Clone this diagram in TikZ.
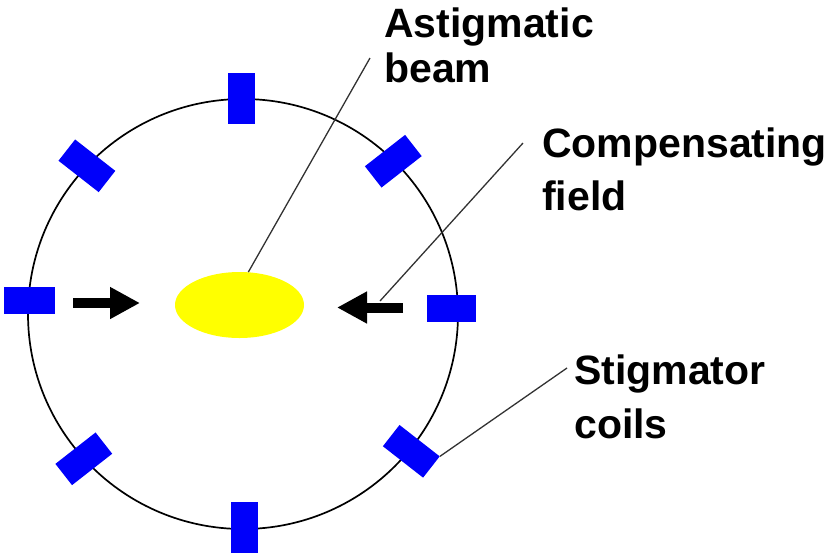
\documentclass[tikz,border=0pt]{standalone}
\usepackage{fontspec}
\setmainfont{Liberation Sans}
\usetikzlibrary{shapes.geometric,arrows.meta}
\definecolor{coilblue}{RGB}{0,0,250}
\definecolor{beamyellow}{RGB}{255,255,0}
\definecolor{leadergray}{RGB}{50,50,50}
\tikzset{
  coil/.style={draw=none, fill=coilblue, rectangle, minimum width=51pt, minimum height=27pt, inner sep=0pt},
  label/.style={font=\fontsize{41}{46}\selectfont\bfseries, anchor=base west, inner sep=0pt},
  leader/.style={draw=leadergray, line width=1.3pt},
  fieldarrow/.style={line width=10pt, -{Triangle[length=30pt,width=30pt]}}
}
\begin{document}
\begin{tikzpicture}[x=1pt,y=-1pt]
\useasboundingbox (0,0) rectangle (838,558);
% ring
\node[draw=black, line width=1.7pt, circle, minimum size=430pt, inner sep=0pt] (ring) at (243,314) {};
% beam
\node[ellipse, fill=beamyellow, minimum width=129pt, minimum height=66pt, inner sep=0pt] (beam) at (239.5,305) {};
% coils
\node[coil, rotate=90] (ctop) at (241,98.5) {};
\node[coil, rotate=90] (cbot) at (244,527.5) {};
\node[coil] (cleft) at (29,300) {};
\node[coil, minimum width=49pt] (cright) at (451.5,308) {};
\node[coil, rotate=-38] (cul) at (86.9,165.8) {};
\node[coil, rotate=38] (cur) at (393.3,161.2) {};
\node[coil, rotate=38] (cll) at (83.8,458.8) {};
\node[coil, rotate=-38] (clr) at (411.3,451.3) {};
% field arrows
\coordinate (la1) at (73,303);
\coordinate (la2) at (140,303);
\coordinate (ra1) at (403,307.5);
\coordinate (ra2) at (337,307.5);
\draw[fieldarrow] (la1) -- (la2);
\draw[fieldarrow] (ra1) -- (ra2);
% labels
\node[label] (astig) at (384,37) {Astigmatic};
\node[label] (beamtxt) at (384,82) {beam};
\node[label] (comp) at (542,157) {Compensating};
\node[label] (fieldtxt) at (542,210) {field};
\node[label] (stig) at (574,384) {Stigmator};
\node[label] (coilstxt) at (574,438) {coils};
% leaders
\coordinate (lbeam) at (370,58);
\coordinate (lcomp) at (523,143);
\coordinate (lstig) at (567,368);
\coordinate (compstart) at (380,301);
\draw[leader] (beam.75) -- (lbeam);
\draw[leader] (compstart) -- (lcomp);
\draw[leader] (clr.north east) -- (lstig);
\end{tikzpicture}
\end{document}
